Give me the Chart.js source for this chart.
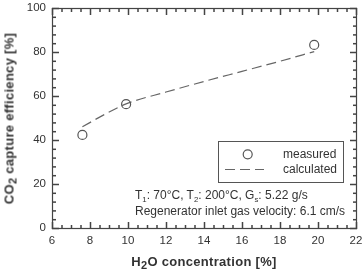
<!DOCTYPE html>
<html>
<head>
<meta charset="utf-8">
<script src="https://cdn.jsdelivr.net/npm/chart.js@4/dist/chart.umd.min.js"></script>
<style>
  html, body { margin: 0; padding: 0; background: #fff; }
  #wrap { position: relative; width: 362px; height: 269px; font-family: "Liberation Sans", Arial, sans-serif; color: #333; }
  #wrap canvas { position: absolute; left: 0; top: 0; }
  .t { position: absolute; white-space: nowrap; font-size: 12px; line-height: 14px; color: #333; }
  .t sub { font-size: 65%; vertical-align: -3px; line-height: 0; }
  .ttl { position: absolute; white-space: nowrap; font-weight: bold; font-size: 13px; line-height: 15px; color: #333; letter-spacing: 0.3px; }
  .ttl sub { font-size: 85%; vertical-align: -3px; line-height: 0; }
</style>
</head>
<body>
<div id="wrap">
  <canvas id="c" width="362" height="269"></canvas>
  <div class="ttl" id="ytitle" style="left:-91.5px; top:110.5px; width:200px; text-align:center; transform:rotate(-90deg);">CO<sub>2</sub> capture efficiency [%]</div>
  <div class="ttl" id="xtitle" style="left:104px; top:254px; width:200px; text-align:center;">H<sub>2</sub>O concentration [%]</div>
  <div class="t" style="left:283px; top:147px;">measured</div>
  <div class="t" style="left:283px; top:162px;">calculated</div>
  <div class="t" style="left:135px; top:188px;">T<sub>1</sub>: 70°C, T<sub>2</sub>: 200°C, G<sub>s</sub>: 5.22 g/s</div>
  <div class="t" style="left:135px; top:204px;">Regenerator inlet gas velocity: 6.1 cm/s</div>
</div>
<script>
// Data
const measuredX = [7.6, 9.9, 19.8];
const measuredY = [42.3, 56.3, 83.2];
const calcX = [7.6, 8.7, 9.9, 12, 14, 16, 18, 19.8];
const calcY = [46.0, 51.3, 56.4, 61.8, 66.6, 71.2, 75.8, 80.2];
const xTickLabels = [6, 8, 10, 12, 14, 16, 18, 20, 22];
const yTickLabels = [0, 20, 40, 60, 80, 100];

const frameColor = '#444';

const tickPlugin = {
  id: 'frameTicks',
  afterDraw(chart) {
    const { ctx, chartArea: a, scales } = chart;
    const xs = scales.x, ys = scales.y;
    ctx.save();
    ctx.setLineDash([]);
    ctx.lineDashOffset = 0;
    ctx.globalAlpha = 1;
    ctx.strokeStyle = frameColor;
    ctx.lineWidth = 1.2;
    const L = Math.round(a.left), R = Math.round(a.right), T = Math.round(a.top), B = Math.round(a.bottom);
    ctx.strokeRect(L + 0.5, T + 0.5, R - L, B - T);
    ctx.fillStyle = frameColor;
    const w = 1.5;
    // x ticks: minor every 0.5, major every 2
    for (let i = 0; i <= 32; i++) {
      const v = 6 + i * 0.5;
      const len = (i % 4 === 0) ? 7 : 4;
      const px = xs.getPixelForValue(v) + 0.5;
      ctx.fillRect(px - w / 2, B - len + 1, w, len);
      ctx.fillRect(px - w / 2, T, w, len);
    }
    // y ticks: minor every 4, major every 20
    for (let i = 0; i <= 25; i++) {
      const v = i * 4;
      const len = (i % 5 === 0) ? 7 : 4;
      const py = ys.getPixelForValue(v) + 0.5;
      ctx.fillRect(L, py - w / 2, len, w);
      ctx.fillRect(R - len + 1, py - w / 2, len, w);
    }
    // legend box
    ctx.lineWidth = 1;
    ctx.strokeStyle = '#555';
    ctx.strokeRect(218.5, 141.5, 125, 41);
    const m = chart.data.datasets[0];
    ctx.beginPath();
    ctx.lineWidth = m.borderWidth;
    ctx.strokeStyle = m.borderColor;
    ctx.arc(247.7, 154.3, m.pointRadius, 0, Math.PI * 2);
    ctx.stroke();
    const c = chart.data.datasets[1];
    ctx.beginPath();
    ctx.lineWidth = c.borderWidth;
    ctx.strokeStyle = c.borderColor;
    ctx.setLineDash(c.borderDash);
    ctx.moveTo(225, 169.5); ctx.lineTo(264, 169.5);
    ctx.stroke();
    ctx.restore();
  }
};

new Chart(document.getElementById('c'), {
  type: 'scatter',
  data: {
    datasets: [
      {
        label: 'measured',
        data: measuredX.map((x, i) => ({ x, y: measuredY[i] })),
        showLine: false,
        pointStyle: 'circle',
        pointRadius: 4.5,
        pointHoverRadius: 4.5,
        pointBackgroundColor: 'rgba(255,255,255,0)',
        borderColor: '#555',
        pointBorderColor: '#555',
        borderWidth: 1.2,
        pointBorderWidth: 1.2,
        order: 0
      },
      {
        label: 'calculated',
        data: calcX.map((x, i) => ({ x, y: calcY[i] })),
        showLine: true,
        pointRadius: 0,
        borderColor: '#666',
        borderWidth: 1.2,
        borderDash: [10, 5],
        cubicInterpolationMode: 'monotone',
        fill: false,
        order: 1
      }
    ]
  },
  options: {
    responsive: false,
    animation: false,
    events: [],
    layout: { padding: { left: 0, top: 8, right: 6, bottom: 0 } },
    plugins: { legend: { display: false }, tooltip: { enabled: false } },
    scales: {
      x: {
        type: 'linear',
        min: 6, max: 22,
        afterBuildTicks(s) { s.ticks = xTickLabels.map(v => ({ value: v })); },
        afterFit(s) { s.height = 41; s.paddingLeft = 0; s.paddingRight = 0; },
        ticks: { padding: 6, color: '#333', font: { family: 'Liberation Sans', size: 11.5 }, maxRotation: 0 },
        grid: { display: true, drawOnChartArea: false, drawTicks: false },
        border: { display: false }
      },
      y: {
        type: 'linear',
        min: 0, max: 100,
        afterBuildTicks(s) { s.ticks = yTickLabels.map(v => ({ value: v })); },
        afterFit(s) { s.width = 52; s.paddingTop = 0; s.paddingBottom = 0; },
        ticks: { padding: 6, color: '#333', font: { family: 'Liberation Sans', size: 11.5 } },
        grid: { display: true, drawOnChartArea: false, drawTicks: false },
        border: { display: false }
      }
    }
  },
  plugins: [tickPlugin]
});
</script>
</body>
</html>
